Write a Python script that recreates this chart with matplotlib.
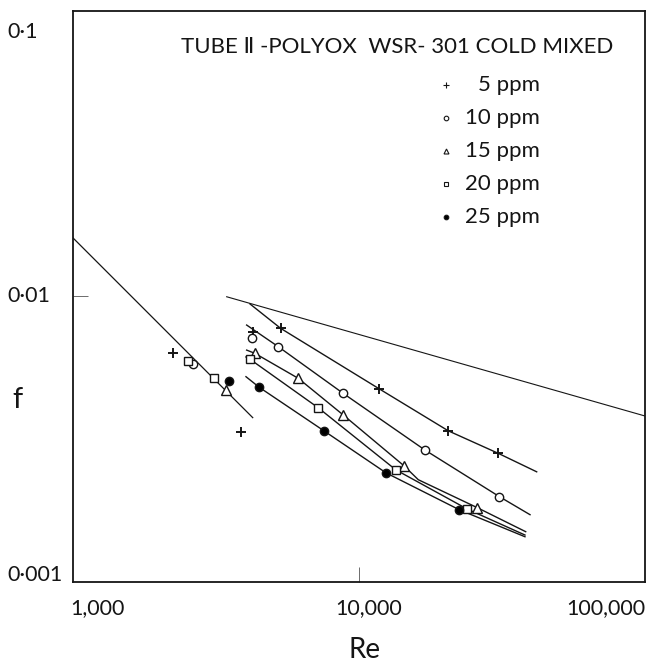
import matplotlib
matplotlib.use('Agg')
import matplotlib.pyplot as plt
from matplotlib.ticker import NullLocator
from matplotlib.transforms import blended_transform_factory

plt.rcParams['font.family'] = ['Lato', 'DejaVu Sans']

# reference lines: laminar f = 16/Re and the turbulent newtonian line
lam_re = [1000, 4250]
lam_f = [0.0160, 0.00376]
turb_re = [3446, 100000]
turb_f = [0.00996, 0.00381]

labels = ['5 ppm', '10 ppm', '15 ppm', '20 ppm', '25 ppm']
markers = ['+', 'o', '^', 's', 'o']
faces = ['black', 'white', 'white', 'white', 'black']
sizes = [7.5, 6, 6.5, 5.5, 6]

# measured points per concentration
pts_re = [
    [2242, 3858, 4250, 5323, 11777, 20530, 30690],
    [2621, 4216, 5222, 8812, 16970, 30950],
    [3420, 4329, 6135, 8812, 14370, 25920],
    [2530, 3112, 4157, 7205, 13440, 23910],
    [3512, 4481, 7544, 12430, 22420],
]
pts_f = [
    [0.00634, 0.00336, 0.00752, 0.00772, 0.00474, 0.00338, 0.00282],
    [0.00578, 0.00712, 0.00666, 0.00457, 0.00290, 0.00199],
    [0.00470, 0.00631, 0.00516, 0.00384, 0.00255, 0.00182],
    [0.00594, 0.00516, 0.00602, 0.00407, 0.00247, 0.00180],
    [0.00504, 0.00480, 0.00338, 0.00241, 0.00179],
]

# faired curves through the drag-reduced points
fit_re = [
    [4157, 5323, 11777, 20530, 30690, 41810],
    [4047, 5222, 8812, 16970, 30950, 39630],
    [4047, 4329, 6135, 8812, 14370, 16120, 25920, 38270],
    [4025, 4157, 7205, 13440, 23910, 38050],
    [4025, 4481, 7544, 12430, 22420, 38050],
]
fit_f = [
    [0.0094, 0.00772, 0.00474, 0.00338, 0.00282, 0.00243],
    [0.00793, 0.00666, 0.00457, 0.00290, 0.00199, 0.00172],
    [0.00648, 0.00631, 0.00516, 0.00384, 0.00255, 0.00228, 0.00182, 0.00150],
    [0.00613, 0.00602, 0.00407, 0.00247, 0.00180, 0.00146],
    [0.00523, 0.00480, 0.00338, 0.00241, 0.00179, 0.00144],
]

xticks = [1000, 10000, 100000]
xtick_text = ['1,000', '10,000', '100,000']
yticks = [0.001, 0.01, 0.1]
ytick_text = ['0·001', '0·01', '0·1']

ink = '#151515'

fig = plt.figure(figsize=(6.48, 6.72), dpi=100)
ax = fig.add_axes([73 / 648, 90 / 672, 572 / 648, 571.5 / 672])
ax.set_xscale('log')
ax.set_yscale('log')
ax.set_xlim(1000, 100000)
ax.set_ylim(0.001, 0.1)

ax.plot(lam_re, lam_f, color=ink, lw=0.9)
ax.plot(turb_re, turb_f, color=ink, lw=0.8)

for i in range(len(labels)):
    ax.plot(fit_re[i], fit_f[i], color=ink, lw=1.0, zorder=2)
    ax.plot(pts_re[i], pts_f[i], ls='none', marker=markers[i], ms=sizes[i],
            mfc=faces[i], mec=ink, mew=1.4 if markers[i] == '+' else 1.0, zorder=3)

# key in the upper right
ax.text(0.566, 0.937, 'TUBE Ⅱ -POLYOX  WSR- 301 COLD MIXED', transform=ax.transAxes,
        ha='center', va='center', fontsize=16, color=ink)
for i, lab in enumerate(labels):
    y = 0.8696 - i * 0.0577
    ax.plot([0.652], [y], marker=markers[i], ms=sizes[i] * 0.55, mfc=faces[i], mec=ink,
            mew=0.8, transform=ax.transAxes, clip_on=False)
    ax.text(0.8165, y, lab, transform=ax.transAxes, ha='right', va='center',
            fontsize=16, color=ink)

# axis frame and the two decade ticks
for s in ax.spines.values():
    s.set_linewidth(1.3)
    s.set_color(ink)
ax.set_xticks([10000])
ax.set_yticks([0.01])
ax.xaxis.set_minor_locator(NullLocator())
ax.yaxis.set_minor_locator(NullLocator())
ax.tick_params(direction='in', length=11, width=0.6, colors='#555555',
               labelleft=False, labelbottom=False)

ytrans = blended_transform_factory(ax.transAxes, ax.transData)
y_shift = [5, 0, -15.5]
for v, t, dy in zip(yticks, ytick_text, y_shift):
    ax.annotate(t, xy=(0, v), xycoords=ytrans, xytext=(-47, dy), textcoords='offset points',
                ha='left', va='center', fontsize=15.5, color=ink)

xtrans = blended_transform_factory(ax.transData, ax.transAxes)
x_shift = [-2, 7, 0]
x_align = ['left', 'center', 'right']
for v, t, dx, ha in zip(xticks, xtick_text, x_shift, x_align):
    ax.annotate(t, xy=(v, 0), xycoords=xtrans, xytext=(dx, -19), textcoords='offset points',
                ha=ha, va='center', fontsize=15.5, color=ink)

ax.text(-0.098, 0.3185, 'f', transform=ax.transAxes, ha='center', va='center',
        fontsize=21, color=ink)
ax.text(0.5105, -0.119, 'Re', transform=ax.transAxes, ha='center', va='center',
        fontsize=20, color=ink)

fig.savefig('out.png', dpi=100)
